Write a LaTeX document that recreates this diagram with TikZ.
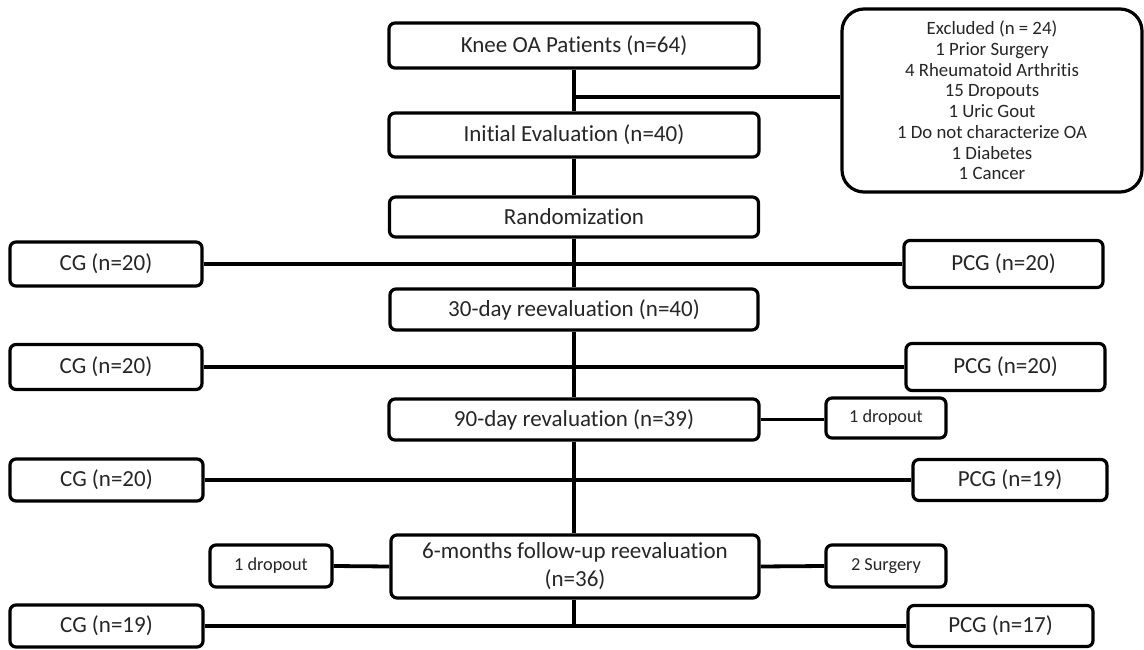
\documentclass[tikz,border=0pt]{standalone}
\usepackage{fontspec}
\setmainfont{Carlito}[Ligatures=NoCommon]
\begin{document}
\begin{tikzpicture}[x=1pt,y=-1pt,
  box/.style={draw=black, line width=3.2pt, rounded corners=6pt, inner sep=0pt, align=center, text=black!85, font=\fontsize{23}{28}\selectfont},
  smallbox/.style={box, font=\fontsize{18.3}{22}\selectfont},
  link/.style={draw=black, line width=3.8pt}]
\useasboundingbox (0,0) rectangle (1144,650);
\fill[white] (0,0) rectangle (1144,650);

% main column
\node[box, minimum width=370pt, minimum height=45pt] (knee) at (574,45.5) {Knee OA Patients (n=64)};
\node[box, minimum width=370pt, minimum height=44pt] (init) at (574,135) {Initial Evaluation (n=40)};
\node[box, minimum width=369pt, minimum height=40pt] (rand) at (574,217) {Randomization};
\node[box, minimum width=368pt, minimum height=41pt] (d30) at (574,309.5) {30-day reevaluation (n=40)};
\node[box, minimum width=370pt, minimum height=41pt] (d90) at (574,419.5) {90-day revaluation (n=39)};
\node[box, minimum width=368pt, minimum height=63pt] (m6) at (575,566.5) {6-months follow-up reevaluation\\(n=36)};

% excluded box
\node[box, rounded corners=22pt, minimum width=300pt, minimum height=183pt, font=\fontsize{18.8}{20.7}\selectfont] (excl) at (992,100.5)
  {Excluded (n = 24)\\1 Prior Surgery\\4 Rheumatoid Arthritis\\15 Dropouts\\1 Uric Gout\\1 Do not characterize OA\\1 Diabetes\\1 Cancer};

% groups
\node[box, minimum width=192pt, minimum height=44pt] (cg1) at (106,264) {CG (n=20)};
\node[box, minimum width=199pt, minimum height=47pt] (pcg1) at (1003.5,264) {PCG (n=20)};
\node[box, minimum width=192pt, minimum height=45pt] (cg2) at (106,367) {CG (n=20)};
\node[box, minimum width=199pt, minimum height=47pt] (pcg2) at (1005.5,367) {PCG (n=20)};
\node[box, minimum width=193pt, minimum height=42pt] (cg3) at (106.5,480) {CG (n=20)};
\node[box, minimum width=194pt, minimum height=41pt] (pcg3) at (1010,480) {PCG (n=19)};
\node[box, minimum width=193pt, minimum height=42pt] (cg4) at (106.5,626) {CG (n=19)};
\node[box, minimum width=185pt, minimum height=41pt] (pcg4) at (1000.5,626) {PCG (n=17)};

% side boxes
\node[smallbox, minimum width=120pt, minimum height=40pt] (dropr) at (886,418) {1 dropout};
\node[smallbox, minimum width=122pt, minimum height=42pt] (dropl) at (271,566) {1 dropout};
\node[smallbox, minimum width=120pt, minimum height=42pt] (surg) at (886,566) {2 Surgery};

% connectors
\coordinate (j1) at (574,97);
\coordinate (r4) at (574,626);
\draw[link] (knee.south) -- (init.north);
\draw[link] (j1) -- (j1 -| excl.west);
\draw[link] (init.south) -- (rand.north);
\draw[link] (rand.south) -- (d30.north);
\draw[link] (d30.south) -- (d90.north);
\draw[link] (d90.south) -- (d90.south |- m6.north);
\draw[link] (d90.south |- m6.south) -- (r4);
\draw[link] (cg1.east) -- (pcg1.west);
\draw[link] (cg2.east) -- (pcg2.west);
\draw[link] (cg3.east) -- (pcg3.west);
\draw[link] (cg4.east) -- (pcg4.west);
\draw[link] (d90.east) -- (d90.east -| dropr.west);
\draw[link] (m6.west) -- (dropl.east);
\draw[link] (m6.east) -- (surg.west);
\end{tikzpicture}
\end{document}
